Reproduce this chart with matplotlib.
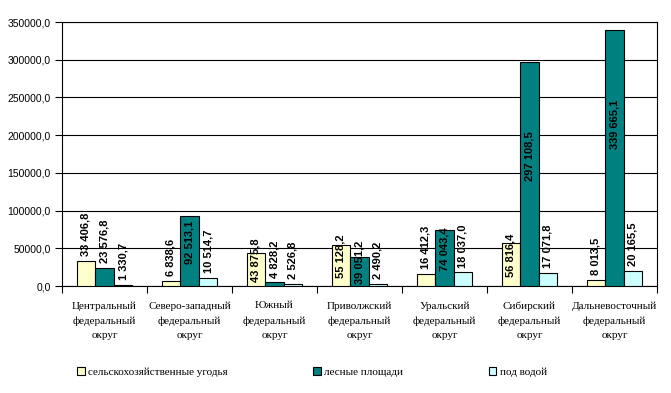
import matplotlib
matplotlib.use('Agg')
import matplotlib.pyplot as plt
import numpy as np
from matplotlib.ticker import FuncFormatter, FixedLocator
from matplotlib.patches import Patch

# data (тыс. га)
districts = ['Центральный\nфедеральный\nокруг', 'Северо-западный\nфедеральный\nокруг',
             'Южный\nфедеральный\nокруг', 'Приволжский\nфедеральный\nокруг',
             'Уральский\nфедеральный\nокруг', 'Сибирский\nфедеральный\nокруг',
             'Дальневосточный\nфедеральный\nокруг']
agri = [33406.8, 6838.6, 43875.8, 55128.2, 16412.3, 56816.4, 8013.5]
forest = [23576.8, 92513.1, 4828.2, 39051.2, 74043.4, 297108.5, 339665.1]
water = [1330.7, 10514.7, 2526.8, 2490.2, 18037.0, 17071.8, 20165.5]
series_names = ['сельскохозяйственные угодья', 'лесные площади', 'под водой']
colors = ['#FFFFCC', '#008080', '#CCFFFF']


def fmt_label(v):
    return f"{v:,.1f}".replace(',', ' ').replace('.', ',')


fig = plt.figure(figsize=(6.71, 3.93), dpi=100)
ax = fig.add_axes([0.0924, 0.272, 0.8866, 0.672])

x = np.arange(len(districts))
w = 0.218
for k, vals in enumerate([agri, forest, water]):
    bars = ax.bar(x + (k - 1) * w, vals, w, color=colors[k], edgecolor='black',
                  linewidth=0.8, zorder=3)
    for b, v in zip(bars, vals):
        xc = b.get_x() + b.get_width() / 2
        if v <= 35000:
            ax.annotate(fmt_label(v), (xc, v), xytext=(0, 3.5), textcoords='offset points',
                        rotation=90, ha='center', va='bottom', fontsize=8, fontweight='bold',
                        family='Liberation Sans', zorder=4)
        else:
            yc = max(0.5 * v + 12000, v - 125000)
            ax.text(xc, yc, fmt_label(v), rotation=90, ha='center', va='center',
                    fontsize=8, fontweight='bold', family='Liberation Sans', zorder=4)

ax.set_xlim(-0.5, 6.5)
ax.set_ylim(0, 350000)
ax.set_yticks(np.arange(0, 350001, 50000))
ax.yaxis.set_major_formatter(FuncFormatter(lambda v, p: f"{v:.1f}".replace('.', ',')))
ax.grid(axis='y', color='black', linewidth=0.8, zorder=1)

ax.set_xticks(x)
ax.set_xticklabels(districts, family='Liberation Serif', fontsize=8, linespacing=1.75)
ax.xaxis.set_minor_locator(FixedLocator(np.arange(-0.5, 7, 1)))
ax.tick_params(axis='x', which='major', length=0, pad=11)
ax.tick_params(axis='x', which='minor', length=5, width=0.8, color='black')
ax.tick_params(axis='y', length=5, width=0.8, labelsize=7.5, pad=3)
for t in ax.get_yticklabels():
    t.set_family('Liberation Sans')
for s in ax.spines.values():
    s.set_color('black')
    s.set_linewidth(0.8)

handles = [Patch(facecolor=c, edgecolor='black', linewidth=0.8) for c in colors]
fig.legend(handles, series_names, loc='lower left', bbox_to_anchor=(0.1, 0.015, 0.73, 0.07),
           mode='expand', ncol=3, frameon=False, handlelength=0.7, handleheight=0.7,
           handletextpad=0.3, prop={'family': 'Liberation Serif', 'size': 8})

fig.savefig('out.png', dpi=100)
